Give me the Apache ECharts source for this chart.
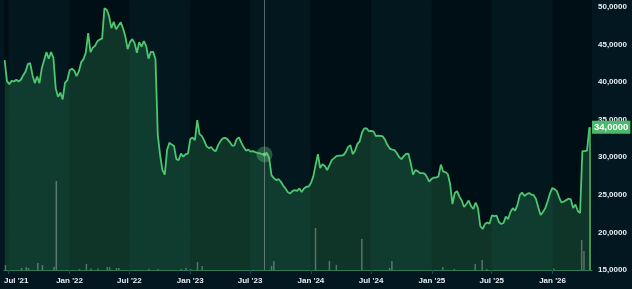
<!DOCTYPE html>
<html><head><meta charset="utf-8">
<script src="https://cdn.jsdelivr.net/npm/echarts@6/dist/echarts.min.js"></script>
<style>html,body{margin:0;padding:0;background:#021720;}#c{width:632px;height:289px;}</style>
</head><body><div id="c"></div>
<script>
const dates = [
'2021-06-21','2021-06-28','2021-07-05','2021-07-12','2021-07-19','2021-07-26','2021-08-02','2021-08-09','2021-08-16','2021-08-23','2021-08-30','2021-09-06','2021-09-13','2021-09-20','2021-09-27','2021-10-04','2021-10-11','2021-10-18','2021-10-25','2021-11-01','2021-11-08','2021-11-15','2021-11-22','2021-11-29','2021-12-06','2021-12-13','2021-12-20','2021-12-27',
'2022-01-03','2022-01-10','2022-01-17','2022-01-24','2022-01-31','2022-02-07','2022-02-14','2022-02-21','2022-02-28','2022-03-07','2022-03-14','2022-03-21','2022-03-28','2022-04-04','2022-04-11','2022-04-18','2022-04-25','2022-05-02','2022-05-09','2022-05-16','2022-05-23','2022-05-30','2022-06-06','2022-06-13','2022-06-20','2022-06-27','2022-07-04','2022-07-11','2022-07-18','2022-07-25','2022-08-01','2022-08-08','2022-08-15','2022-08-22','2022-08-29','2022-09-05','2022-09-12','2022-09-19','2022-09-26','2022-10-03','2022-10-10','2022-10-17','2022-10-24','2022-10-31','2022-11-07','2022-11-14','2022-11-21','2022-11-28','2022-12-05','2022-12-12','2022-12-19','2022-12-26',
'2023-01-02','2023-01-09','2023-01-16','2023-01-23','2023-01-30','2023-02-06','2023-02-13','2023-02-20','2023-02-27','2023-03-06','2023-03-13','2023-03-20','2023-03-27','2023-04-03','2023-04-10','2023-04-17','2023-04-24','2023-05-01','2023-05-08','2023-05-15','2023-05-22','2023-05-29','2023-06-05','2023-06-12','2023-06-19','2023-06-26','2023-07-03','2023-07-10','2023-07-17','2023-07-24','2023-07-31','2023-08-07','2023-08-14','2023-08-21','2023-08-28','2023-09-04','2023-09-11','2023-09-18','2023-09-25','2023-10-02','2023-10-09','2023-10-16','2023-10-23','2023-10-30','2023-11-06','2023-11-13','2023-11-20','2023-11-27','2023-12-04','2023-12-11','2023-12-18','2023-12-25',
'2024-01-01','2024-01-08','2024-01-15','2024-01-22','2024-01-29','2024-02-05','2024-02-12','2024-02-19','2024-02-26','2024-03-04','2024-03-11','2024-03-18','2024-03-25','2024-04-01','2024-04-08','2024-04-15','2024-04-22','2024-04-29','2024-05-06','2024-05-13','2024-05-20','2024-05-27','2024-06-03','2024-06-10','2024-06-17','2024-06-24','2024-07-01','2024-07-08','2024-07-15','2024-07-22','2024-07-29','2024-08-05','2024-08-12','2024-08-19','2024-08-26','2024-09-02','2024-09-09','2024-09-16','2024-09-23','2024-09-30','2024-10-07','2024-10-14','2024-10-21','2024-10-28','2024-11-04','2024-11-11','2024-11-18','2024-11-25','2024-12-02','2024-12-09','2024-12-16','2024-12-23','2024-12-30',
'2025-01-06','2025-01-13','2025-01-20','2025-01-27','2025-02-03','2025-02-10','2025-02-17','2025-02-24','2025-03-03','2025-03-10','2025-03-17','2025-03-24','2025-03-31','2025-04-07','2025-04-14','2025-04-21','2025-04-28','2025-05-05','2025-05-12','2025-05-19','2025-05-26','2025-06-02','2025-06-09','2025-06-16','2025-06-23','2025-06-30','2025-07-07','2025-07-14','2025-07-21','2025-07-28','2025-08-04','2025-08-11','2025-08-18','2025-08-25','2025-09-01','2025-09-08','2025-09-15','2025-09-22','2025-09-29','2025-10-06','2025-10-13','2025-10-20','2025-10-27','2025-11-03','2025-11-10','2025-11-17','2025-11-24','2025-12-01','2025-12-08','2025-12-15','2025-12-22','2025-12-29',
'2026-01-05','2026-01-12','2026-01-19','2026-01-26','2026-02-02','2026-02-09','2026-02-16','2026-02-23','2026-03-02','2026-03-09','2026-03-16','2026-03-23','2026-03-30','2026-04-06','2026-04-13','2026-04-20'
];
const prices = [
42.93,40.13,39.73,40.17,40.09,40.32,40.09,40.32,40.93,41.41,
42.39,42.53,40.93,39.87,40.73,39.87,41.86,42.92,43.99,43.12,
43.99,43.26,39.20,38.04,38.60,37.70,39.90,40.26,41.59,41.79,
41.53,40.80,41.46,42.66,43.06,43.99,46.52,43.99,44.59,44.85,
45.45,45.68,45.78,49.84,49.64,48.78,47.18,48.04,47.05,47.51,
47.98,47.18,46.12,44.39,45.32,45.72,45.19,43.92,45.32,44.72,
45.45,44.79,43.12,44.03,44.03,43.06,32.95,30.29,28.30,27.70,
30.96,31.93,31.69,31.49,29.76,29.63,30.49,30.09,30.42,30.49,
32.42,32.62,32.29,34.95,33.08,32.82,32.22,31.49,31.22,31.36,
30.96,30.82,31.62,32.15,32.51,32.59,32.42,32.02,31.56,31.56,
32.42,32.65,31.95,31.36,30.89,31.02,30.76,30.82,30.69,30.59,
30.52,30.42,30.38,30.60,29.89,27.63,27.23,26.97,27.10,26.77,
26.24,25.86,25.37,25.17,25.50,25.64,25.54,25.86,25.37,25.84,
26.08,26.10,26.57,27.43,28.96,30.42,28.56,29.09,28.83,28.30,
28.96,29.63,29.89,30.16,30.22,30.22,30.29,30.69,31.36,31.62,
30.42,30.86,31.75,32.11,33.29,33.84,33.84,33.48,33.52,33.42,
32.82,32.89,32.86,32.78,32.29,31.62,31.16,31.02,30.96,30.56,
30.03,29.76,30.16,30.45,30.49,29.23,27.70,28.30,28.16,27.90,
27.90,27.83,27.37,26.77,27.13,27.30,27.30,27.46,29.03,28.10,
28.03,27.76,26.44,23.78,25.24,25.50,24.77,24.24,23.38,23.78,
24.24,23.51,23.11,23.98,23.24,20.85,20.45,21.12,21.32,21.18,
22.27,22.18,22.25,21.38,21.12,21.25,22.11,21.78,22.71,23.24,
22.91,23.64,24.97,25.31,24.84,25.10,25.24,25.04,24.97,24.44,
23.31,22.31,22.71,23.24,24.11,25.17,25.90,25.77,25.50,24.64,
23.98,24.09,24.30,24.49,24.41,23.24,23.71,22.88,22.58,30.82,
30.82,30.89,34.00
];
const volumes = [
50,0,0,0,0,0,0,20,0,30,
20,0,0,0,70,0,50,0,0,0,
0,30,890,0,0,0,0,0,0,0,
0,0,10,0,0,60,0,15,0,0,
15,0,0,0,30,30,0,0,20,20,
0,0,0,0,0,0,0,0,0,0,
0,0,10,0,0,0,10,0,0,0,
0,0,0,0,0,0,10,0,20,0,
10,0,0,80,0,40,0,0,0,0,
0,0,0,0,0,0,0,0,0,0,
0,0,0,0,0,0,0,0,0,0,
0,0,0,0,0,40,90,0,0,0,
0,0,0,0,0,0,0,0,0,0,
0,0,0,0,420,0,0,0,0,0,
90,0,0,50,0,0,0,0,0,0,
0,0,0,0,310,0,0,0,0,0,
0,0,0,0,0,0,20,90,0,0,
0,0,0,0,0,0,0,0,0,0,
0,0,0,0,0,0,0,0,0,30,
0,0,0,0,10,0,0,0,0,0,
0,0,0,60,0,0,100,0,10,0,
0,0,0,0,0,0,0,0,0,0,
0,0,0,0,0,0,0,0,0,0,
0,0,0,0,0,0,0,15,0,0,
0,0,0,0,0,0,0,0,0,300,
190,0,0
];
const yMin = 15, yMax = 50, yStep = 5;
const xStart = new Date(2021, 5, 19).getTime();
const xEnd = new Date(2026, 3, 28).getTime();
const crossIndex = 112;
const watermark = 'MAS';

const fmt = v => Number(v).toFixed(4).replace('.', ',');
const DAY = 86400000;
const last = prices.length - 1;
const txt = '#e6eef2';
const FONT = 'Liberation Sans, Arial, sans-serif';

function xLabel(val) {
  const d = new Date(val);
  if (d.getDate() !== 1) return '';
  const m = d.getMonth();
  if (m !== 0 && m !== 6) return '';
  const s = (m === 0 ? 'Jan' : 'Jul') + " '" + String(d.getFullYear()).slice(2);
  if (val - xStart < 60 * DAY) return '{f|' + s + '}';
  return s;
}

const chart = echarts.init(document.getElementById('c'), null, {renderer: 'canvas'});
chart.setOption({
  animation: false,
  backgroundColor: '#021720',
  textStyle: {fontFamily: FONT},
  grid: [
    {left: 4, right: 40, top: 7, bottom: 19},
    {left: 4, right: 40, top: 0, bottom: 19}
  ],
  xAxis: [
    {type: 'time', gridIndex: 0, min: xStart, max: xEnd, show: false,
     minInterval: 180 * DAY, maxInterval: 186 * DAY, splitLine: {show: false}},
    {type: 'time', gridIndex: 1, min: xStart, max: xEnd,
     minInterval: 180 * DAY, maxInterval: 186 * DAY,
     axisLine: {show: true, lineStyle: {color: '#2f7a57', width: 1}},
     axisTick: {show: true, length: 4, lineStyle: {color: '#1c4a5a'}},
     axisLabel: {formatter: xLabel, color: txt, fontSize: 8, fontWeight: 'bold', fontFamily: FONT, margin: 7,
       rich: {f: {padding: [0, 0, 0, 15], color: txt, fontSize: 8, fontWeight: 'bold', fontFamily: FONT}}},
     splitLine: {show: false},
     splitArea: {show: true, areaStyle: {color: ['#000e15', '#03171f']}}}
  ],
  yAxis: [
    {type: 'value', gridIndex: 0, position: 'right', min: yMin, max: yMax, interval: yStep,
     axisLine: {show: false}, axisTick: {show: false},
     axisLabel: {formatter: fmt, color: txt, fontSize: 8, fontWeight: 'bold', fontFamily: FONT, margin: 6},
     splitLine: {show: true, lineStyle: {color: '#0d3954', width: 1}}},
    {type: 'value', gridIndex: 1, min: 0, max: 2700, show: false, splitLine: {show: false}}
  ],
  graphic: [
    {type: 'text', left: 284, top: 113, silent: true,
     style: {text: watermark, fill: '#0b2a3a', font: 'bold 9px ' + FONT}}
  ],
  series: [
    {
      type: 'line', xAxisIndex: 0, yAxisIndex: 0, z: 2,
      data: dates.map((d, i) => [d, prices[i]]),
      showSymbol: false, symbol: 'none',
      lineStyle: {color: '#4ec66f', width: 1.8},
      areaStyle: {color: 'rgba(62,192,105,0.32)', origin: 'start'},
      markLine: {
        silent: true, symbol: 'none', animation: false,
        data: [
          [{coord: [dates[last], yMin], lineStyle: {color: '#4ec66f', width: 1.5, type: 'solid'}, label: {show: false}},
           {coord: [dates[last], prices[last]]}]
        ]
      },
      markPoint: {
        silent: true, symbol: 'circle', animation: false,
        data: [
          {coord: [dates[crossIndex], prices[crossIndex]], symbolSize: 16,
           itemStyle: {color: 'rgba(110,200,130,0.35)'}, label: {show: false}},
          {coord: [dates[crossIndex], prices[crossIndex]], symbolSize: 4,
           itemStyle: {color: '#5fd07e'}, label: {show: false}}
        ]
      }
    },
    {
      type: 'line', xAxisIndex: 0, yAxisIndex: 0, z: 4,
      data: [], silent: true,
      markLine: {
        silent: true, symbol: 'none', animation: false,
        data: [
          {yAxis: prices[last],
           lineStyle: {color: 'rgba(0,0,0,0)', width: 0},
           label: {show: true, position: 'end', distance: 0, formatter: fmt(prices[last]),
             backgroundColor: '#49bb69', color: '#ffffff', fontSize: 9.5, fontWeight: 'bold', fontFamily: FONT,
             padding: [2, 2, 1, 2]}}
        ]
      }
    },
    {
      type: 'bar', xAxisIndex: 1, yAxisIndex: 1, z: 3,
      data: dates.map((d, i) => [d, volumes[i]]),
      barWidth: 1.5,
      itemStyle: {color: 'rgba(200,210,205,0.4)'},
      markLine: {
        silent: true, symbol: 'none', animation: false,
        data: [{xAxis: dates[crossIndex]}],
        lineStyle: {color: 'rgba(170,180,180,0.5)', width: 1, type: 'solid'},
        label: {show: false}
      }
    }
  ]
});
</script>
</body></html>
